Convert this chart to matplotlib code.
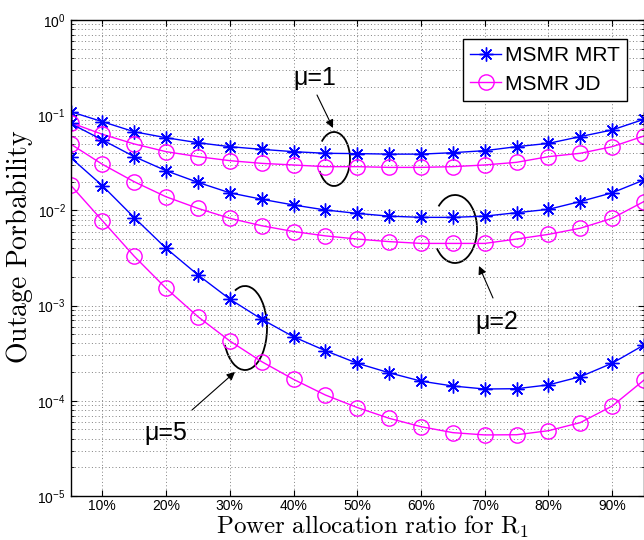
import matplotlib

matplotlib.use("Agg")

import matplotlib.pyplot as plt
from matplotlib.patches import Arc
from matplotlib.transforms import IdentityTransform
from matplotlib.ticker import FixedLocator, LogLocator, NullFormatter

plt.rcParams["font.family"] = ["Liberation Sans", "DejaVu Sans"]
plt.rcParams["mathtext.fontset"] = "cm"

# power allocation ratio for R1
ratio = [0.05, 0.10, 0.15, 0.20, 0.25, 0.30, 0.35, 0.40, 0.45, 0.50,
         0.55, 0.60, 0.65, 0.70, 0.75, 0.80, 0.85, 0.90, 0.95]
x_ticks = [0.1, 0.2, 0.3, 0.4, 0.5, 0.6, 0.7, 0.8, 0.9]
x_tick_labels = ["10%", "20%", "30%", "40%", "50%", "60%", "70%", "80%", "90%"]

# outage probability, MSMR MRT
mrt_mu1 = [0.109, 0.0855, 0.067, 0.058, 0.0514, 0.0467, 0.0438, 0.0414, 0.0398, 0.0395,
           0.039, 0.039, 0.0404, 0.0424, 0.0467, 0.0506, 0.0596, 0.070, 0.0906]
mrt_mu2 = [0.082, 0.055, 0.0367, 0.0261, 0.0197, 0.0153, 0.0131, 0.0114, 0.0101, 0.0093,
           0.0087, 0.00845, 0.00845, 0.0087, 0.00946, 0.01026, 0.0124, 0.0153, 0.0209]
mrt_mu5 = [0.036, 0.0182, 0.0084, 0.0040, 0.0021, 0.00117, 0.00072, 0.00047, 0.000336, 0.000248,
           0.000197, 0.000161, 0.000143, 0.000133, 0.000134, 0.000147, 0.000179, 0.000248, 0.000386]

# outage probability, MSMR JD
jd_mu1 = [0.0835, 0.063, 0.0499, 0.0414, 0.0367, 0.0333, 0.0312, 0.0300, 0.0288, 0.0288,
          0.0283, 0.0283, 0.0288, 0.0300, 0.0320, 0.0367, 0.0398, 0.0467, 0.0605]
jd_mu2 = [0.0499, 0.0305, 0.0200, 0.0139, 0.0105, 0.00826, 0.0069, 0.0060, 0.0054, 0.0050,
          0.0047, 0.0045, 0.0045, 0.0045, 0.0050, 0.0056, 0.0065, 0.00826, 0.0124]
jd_mu5 = [0.0185, 0.0078, 0.0033, 0.00152, 0.000765, 0.000425, 0.000258, 0.000168, 0.000115, 8.5e-5,
          6.55e-5, 5.35e-5, 4.63e-5, 4.38e-5, 4.4e-5, 4.85e-5, 5.9e-5, 8.8e-5, 0.000165]

W, H = 644, 540
fig = plt.figure(figsize=(W / 100, H / 100), dpi=100)
ax = fig.add_axes([70.5 / W, 44 / H, 1 - 70.5 / W, 476 / H])

asterisk = (8, 2, 0)
for i, (mrt, jd) in enumerate([(mrt_mu1, jd_mu1), (mrt_mu2, jd_mu2), (mrt_mu5, jd_mu5)]):
    ax.plot(ratio, mrt, color="blue", linewidth=1.0, marker=asterisk, markersize=10,
            markeredgewidth=1.0, label="MSMR MRT" if i == 0 else None)
    ax.plot(ratio, jd, color="magenta", linewidth=1.0, marker="o", markersize=11,
            markerfacecolor="none", markeredgewidth=1.0, label="MSMR JD" if i == 0 else None)

ax.set_yscale("log")
ax.set_xlim(0.05, 0.95)
ax.set_ylim(1e-5, 1e0)
ax.xaxis.set_major_locator(FixedLocator(x_ticks))
ax.set_xticklabels(x_tick_labels)
ax.yaxis.set_major_locator(LogLocator(base=10, numticks=10))
ax.yaxis.set_minor_locator(LogLocator(base=10, subs=range(2, 10), numticks=50))
ax.yaxis.set_minor_formatter(NullFormatter())
ax.tick_params(which="both", direction="in", top=True, right=True, labelsize=10)
ax.tick_params(which="major", length=4)
ax.tick_params(which="minor", length=2)
ax.tick_params(axis="x", pad=2.5)
dots = dict(linestyle=(0, (1, 2.5)), color="0.5", linewidth=0.7)
ax.grid(which="major", axis="both", **dots)
ax.grid(which="minor", axis="y", **dots)
for spine in ax.spines.values():
    spine.set_linewidth(1.0)

ax.set_xlabel(r"$\mathrm{Power\ allocation\ ratio\ for\ R_1}$", fontsize=18)
ax.set_ylabel(r"$\mathrm{Outage\ Porbability}$", fontsize=20)
ax.xaxis.set_label_coords((373 - 70.5) / 573.5, -0.038)
ax.yaxis.set_label_coords((35 - 70.5) / 573.5, (496 - 246.5) / 476)

leg = ax.legend(loc="upper right", bbox_to_anchor=(627 / W, 1 - 39 / H), bbox_transform=fig.transFigure,
                borderaxespad=0, fontsize=15, fancybox=False, framealpha=1, edgecolor="black",
                handlelength=1.45, borderpad=0.35, labelspacing=0.45, handletextpad=0.2)
leg.get_frame().set_linewidth(1.0)

# brackets grouping each pair of curves (display pixels, y up)
brackets = [((334, 159), 32, 54, -140, 125),
            ((455, 229), 44, 68, -133, 126),
            ((245, 328), 44, 84, -140, 105)]
for (cx, cy), w, h, t1, t2 in brackets:
    ax.add_artist(Arc((cx, H - cy), w, h, theta1=t1, theta2=t2, transform=IdentityTransform(),
                      color="black", linewidth=1.3, clip_on=False))

arrow = dict(arrowstyle="-|>", color="black", linewidth=0.8, mutation_scale=12, shrinkA=0, shrinkB=0)
labels = [("μ=1", (315, 78), (317, 95), (333, 128)),
          ("μ=2", (497, 322), (493, 298), (479, 266)),
          ("μ=5", (166, 433), (192, 410), (235, 372))]
for text, (tx, ty), (ax0, ay0), (ax1, ay1) in labels:
    fig.text(tx / W, 1 - ty / H, text, fontsize=18, ha="center", va="center")
    ax.annotate("", xy=(ax1, H - ay1), xycoords="figure pixels",
                xytext=(ax0, H - ay0), textcoords="figure pixels", arrowprops=arrow)

fig.savefig("out.png", dpi=100)
